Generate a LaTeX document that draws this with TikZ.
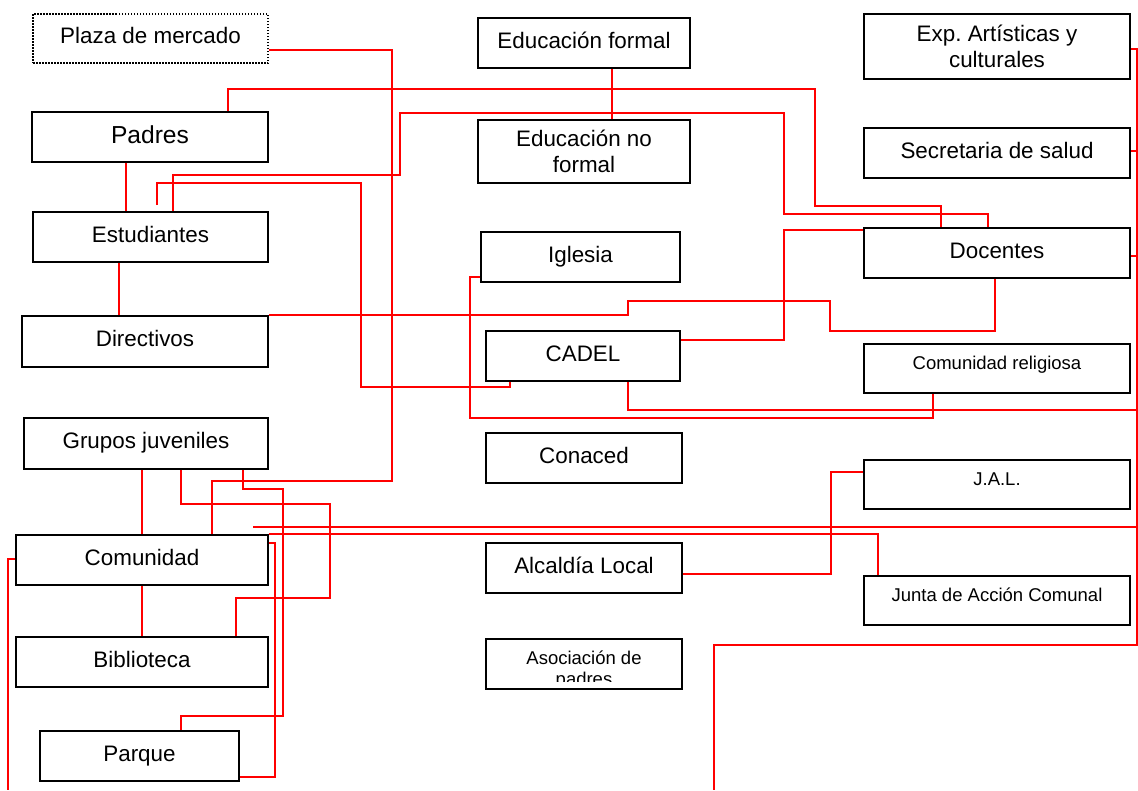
\documentclass[tikz,border=0pt]{standalone}
\usepackage{fontspec}
\setmainfont{Liberation Sans}
\usepackage{tikz}

\begin{document}
\begin{tikzpicture}[x=1pt, y=-1pt,
    box/.style={draw, line width=1.5pt, inner sep=0pt, minimum height=50pt,
        font=\fontsize{22.4}{26}\selectfont, text height=16pt, text depth=6pt},
    bigbox/.style={box, font=\fontsize{24.6}{28}\selectfont, text height=17.6pt, text depth=4pt},
    smallbox/.style={box, font=\fontsize{18.5}{21}\selectfont, text height=13.2pt, text depth=12pt},
    tallbox/.style={draw, line width=1.5pt, inner sep=0pt, align=center,
        font=\fontsize{22.4}{26}\selectfont},
    link/.style={draw=red, line width=1.8pt}]
    \useasboundingbox (0,0) rectangle (1138,790);
    \fill[white] (0,0) rectangle (1138,790);

    \node[box, dash pattern=on 1.5pt off 1.5pt, minimum width=235pt, minimum height=49pt] (plaza) at (150.5,38.5) {Plaza de mercado};
    \node[bigbox, minimum width=236pt] (padres) at (150,137) {Padres};
    \node[box, minimum width=235pt] (estud) at (150.5,237) {Estudiantes};
    \node[box, minimum width=246pt, minimum height=51pt] (direct) at (145,341.5) {Directivos};
    \node[box, minimum width=244pt, minimum height=51pt] (grupos) at (146,443.5) {Grupos juveniles};
    \node[box, minimum width=252pt] (comun) at (142,560) {Comunidad};
    \node[box, minimum width=252pt] (biblio) at (142,662) {Biblioteca};
    \node[box, minimum width=199pt] (parque) at (139.5,756) {Parque};

    \node[box, minimum width=212pt] (edform) at (584,43) {Educación formal};
    \node[tallbox, minimum width=212pt, minimum height=63pt] (ednoform) at (584,151.5) {Educación no\\formal};
    \node[box, minimum width=199pt] (iglesia) at (580.5,257) {Iglesia};
    \node[box, minimum width=194pt] (cadel) at (583,356) {CADEL};
    \node[box, minimum width=196pt] (conaced) at (584,458) {Conaced};
    \node[box, minimum width=196pt] (alcaldia) at (584,568) {Alcaldía Local};
    \node[box, minimum width=196pt] (asoc) at (584,664) {};
    \begin{scope}
        \clip (486,641) rectangle (682,681);
        \node[inner sep=0pt, anchor=north, align=center, font=\fontsize{18.5}{21}\selectfont] (asoctext) at (584,651) {Asociación de\\padres};
    \end{scope}

    \node[tallbox, minimum width=266pt, minimum height=65pt] (exp) at (997,46.5) {Exp.\ Artísticas y\\culturales};
    \node[box, minimum width=266pt] (salud) at (997,153) {Secretaria de salud};
    \node[box, minimum width=266pt] (docentes) at (997,253) {Docentes};
    \node[smallbox, minimum width=266pt, minimum height=49pt] (comrel) at (997,368.5) {Comunidad religiosa};
    \node[smallbox, minimum width=266pt, minimum height=49pt] (jal) at (997,484.5) {J.A.L.};
    \node[smallbox, minimum width=266pt, minimum height=49pt] (junta) at (997,600.5) {Junta de Acción Comunal};

    \coordinate (estudtip) at (157,205);
    \coordinate (comuntip) at (8,790);
    \coordinate (bustip) at (714,790);
    \coordinate (bandtip) at (253,527);

    \draw[link] (plaza.east |- 0,50) -| (392,481) -| (comun.north -| 212,0);
    \draw[link] (padres.north -| 228,0) |- (815,89) |- (941,206) -- (docentes.north -| 941,0);
    \draw[link] (estud.north -| 173,0) |- (400,175) |- (784,113) |- (988,214) -- (docentes.north -| 988,0);
    \draw[link] (estudtip) |- (361,183) |- (510,387) -- (cadel.south -| 510,0);
    \draw[link] (padres.south -| 126,0) -- (estud.north -| 126,0);
    \draw[link] (estud.south -| 119,0) -- (direct.north -| 119,0);
    \draw[link] (direct.north east) -| (628,301) -| (830,331) -| (docentes.south -| 995,0);
    \draw[link] (cadel.east |- 0,340) -| (784,230) -- (docentes.west |- 0,230);
    \draw[link] (iglesia.west |- 0,277) -| (470,418) -| (comrel.south -| 933,0);
    \draw[link] (edform.south -| 612,0) -- (ednoform.north -| 612,0);

    \draw[link] (exp.east |- 0,49) -| (1137,645) -| (bustip);
    \draw[link] (salud.east |- 0,151) -- (1137,151);
    \draw[link] (docentes.east |- 0,256) -- (1137,256);
    \draw[link] (cadel.south -| 628,0) |- (1137,410);
    \draw[link] (1137,527) -- (bandtip);

    \draw[link] (comun.north east) -| (junta.north -| 878,0);
    \draw[link] (alcaldia.east |- 0,574) -| (831,472) -- (jal.west |- 0,472);

    \draw[link] (grupos.south -| 142,0) -- (comun.north -| 142,0);
    \draw[link] (grupos.south -| 181,0) |- (330,504) |- (236,598) -- (biblio.north -| 236,0);
    \draw[link] (grupos.south -| 243,0) |- (283,489) |- (181,716) -- (parque.north -| 181,0);
    \draw[link] (comun.south -| 142,0) -- (biblio.north -| 142,0);
    \draw[link] (comun.east |- 0,543) -| (275,777) -- (parque.east |- 0,777);
    \draw[link] (comun.west |- 0,559) -| (comuntip);
\end{tikzpicture}
\end{document}
